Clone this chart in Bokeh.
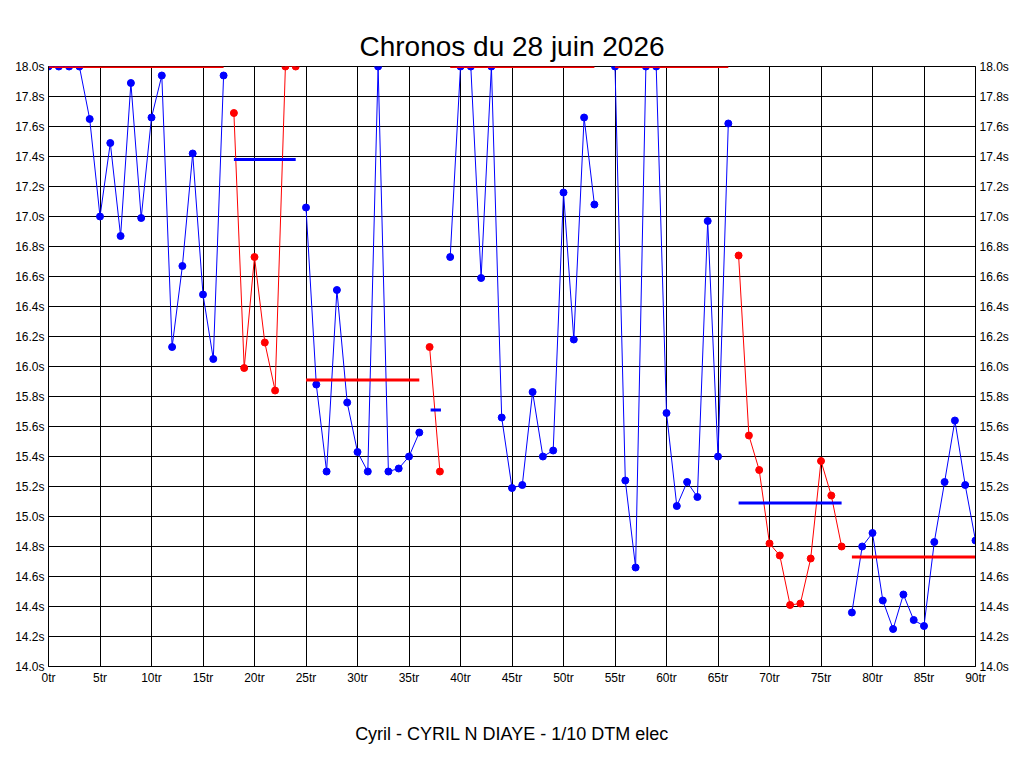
from bokeh.plotting import figure
from bokeh.models import Range1d, LinearAxis, FixedTicker, CustomJSTickFormatter, Title
from bokeh.embed import file_html
from bokeh.resources import INLINE

segments = [
    ("blue", list(range(0, 18)), [18.0,18.0,18.0,18.0,17.65,17.0,17.49,16.87,17.89,16.99,17.66,17.94,16.13,16.67,17.42,16.48,16.05,17.94]),
    ("red", list(range(18, 25)), [17.69,15.99,16.73,16.16,15.84,18.0,18.0]),
    ("blue", list(range(25, 37)), [17.06,15.88,15.30,16.51,15.76,15.43,15.30,18.0,15.30,15.32,15.40,15.56]),
    ("red", [37, 38], [16.13,15.30]),
    ("blue", list(range(39, 54)), [16.73,18.0,18.0,16.59,18.0,15.66,15.19,15.21,15.83,15.40,15.44,17.16,16.18,17.66,17.08]),
    ("blue", list(range(55, 67)), [18.0,15.24,14.66,18.0,18.0,15.69,15.07,15.23,15.13,16.97,15.40,17.62]),
    ("red", list(range(67, 78)), [16.74,15.54,15.31,14.82,14.74,14.41,14.42,14.72,15.37,15.14,14.80]),
    ("blue", list(range(78, 91)), [14.36,14.80,14.89,14.44,14.25,14.48,14.31,14.27,14.83,15.23,15.64,15.21,14.84]),
]
# average bars: color, x0, x1, value
averages = [
    ("red", 0, 17, 18.0),
    ("blue", 18, 24, 17.38),
    ("red", 25, 36, 15.91),
    ("blue", 37.1, 38.1, 15.71),
    ("red", 39, 53, 18.0),
    ("red", 55, 66, 18.0),
    ("blue", 67, 77, 15.09),
    ("red", 78, 90, 14.73),
]

p = figure(width=1016, height=760, output_backend="svg", toolbar_location=None,
           x_range=Range1d(0, 90), y_range=Range1d(14.0, 18.0),
           min_border_left=48, min_border_right=41, min_border_top=66, min_border_bottom=94)
p.title = Title(text="Chronos du 28 juin 2026", align="center", text_font="Liberation Sans",
                text_font_size="28px", text_font_style="normal", text_color="black")
p.outline_line_color = "black"
p.border_fill_color = "white"

yt = [round(14.0 + 0.2 * i, 1) for i in range(21)]
xt = list(range(0, 91, 5))
p.xaxis.ticker = FixedTicker(ticks=xt)
p.yaxis.ticker = FixedTicker(ticks=yt)
p.xaxis.formatter = CustomJSTickFormatter(code="return tick + 'tr';")
p.yaxis.formatter = CustomJSTickFormatter(code="return tick.toFixed(1) + 's';")
p.xaxis.axis_label = "Cyril - CYRIL N DIAYE - 1/10 DTM elec"
p.xaxis.axis_label_text_font = "Liberation Sans"
p.xaxis.axis_label_text_font_size = "18px"
p.xaxis.axis_label_text_font_style = "normal"
p.xaxis.axis_label_text_color = "black"
p.xaxis.axis_label_standoff = 36

ry = LinearAxis(ticker=FixedTicker(ticks=yt), formatter=CustomJSTickFormatter(code="return tick.toFixed(1) + 's';"))
p.add_layout(ry, "right")
for ax in p.axis:
    ax.major_label_text_font = "Liberation Sans"
    ax.major_label_text_font_size = "12px"
    ax.major_label_text_color = "black"
    ax.major_tick_out = 0
    ax.major_tick_in = 0
    ax.minor_tick_out = 0
    ax.minor_tick_in = 0
    ax.axis_line_color = "black"
    ax.major_label_standoff = 4
p.grid.grid_line_color = "black"
p.grid.grid_line_alpha = 1.0
p.xgrid.ticker = FixedTicker(ticks=xt)
p.ygrid.ticker = FixedTicker(ticks=yt)

for col, xs, ys in segments:
    c = "#0000ff" if col == "blue" else "#ff0000"
    p.line(xs, ys, line_color=c, line_width=1)
    p.scatter(xs, ys, size=7, fill_color=c, line_color=c)

for col, x0, x1, v in averages:
    c = "#0000ff" if col == "blue" else "#ff0000"
    p.segment(x0=[x0], y0=[v], x1=[x1], y1=[v], line_color=c, line_width=3)

open("out.html", "w").write(file_html(p, INLINE))
